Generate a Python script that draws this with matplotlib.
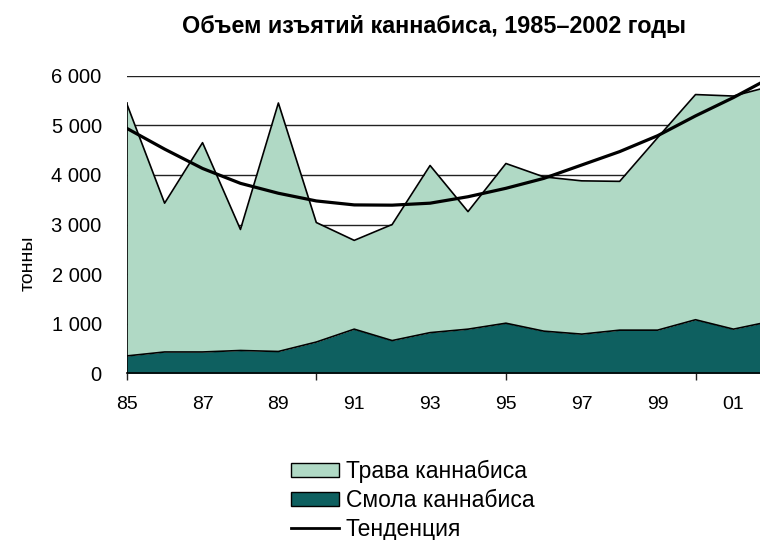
import matplotlib
matplotlib.use("Agg")
import matplotlib.pyplot as plt
from matplotlib.patches import Patch
from matplotlib.lines import Line2D

plt.rcParams['font.family'] = ['Liberation Sans', 'DejaVu Sans']

# data (tonnes)
years = list(range(1985, 2003))
herb = [5090, 3000, 4220, 2440, 5010, 2410, 1790, 2340, 3370, 2370,
        3220, 3110, 3090, 3000, 3880, 4540, 4700, 4740]
resin = [350, 430, 430, 460, 440, 630, 890, 660, 820, 890,
         1010, 850, 790, 870, 870, 1080, 890, 1050]
trend = [4940, 4520, 4130, 3830, 3630, 3475, 3395, 3390, 3430, 3560,
         3730, 3930, 4200, 4470, 4790, 5190, 5560, 5970]

label_years = [1985, 1987, 1989, 1991, 1993, 1995, 1997, 1999, 2001]
label_text = ['85', '87', '89', '91', '93', '95', '97', '99', '01']
tick_years = [1985, 1990, 1995, 2000]
y_ticks = [0, 1000, 2000, 3000, 4000, 5000, 6000]
y_text = ['0', '1 000', '2 000', '3 000', '4 000', '5 000', '6 000']

herb_color = '#b0d9c5'
resin_color = '#0e6060'


def main():
    fig = plt.figure(figsize=(7.6, 5.4), dpi=100)
    ax = fig.add_axes([0.1667, 0.3087, 0.8333, 0.5511])

    total = [h + r for h, r in zip(herb, resin)]

    ax.fill_between(years, 0, resin, color=resin_color, lw=0, zorder=2)
    ax.fill_between(years, resin, total, color=herb_color, lw=0, zorder=2)
    ax.plot(years, resin, color='black', lw=1.2, zorder=3)
    ax.plot(years, total, color='black', lw=1.2, zorder=3)
    ax.plot([years[0], years[0]], [0, total[0]], color='black', lw=1.2, zorder=3)
    ax.plot(years, trend, color='black', lw=2.3, zorder=4)

    ax.set_xlim(1985, 2001.70)
    ax.set_ylim(0, 6000)

    # gridlines behind the areas
    for y in y_ticks[1:]:
        ax.axhline(y, color='#222222', lw=1.0, zorder=1)

    ax.set_yticks(y_ticks)
    ax.set_yticklabels(y_text, fontsize=14.5)
    ax.tick_params(axis='y', length=0, pad=18)

    ax.set_xticks(tick_years)
    ax.set_xticklabels([])
    ax.tick_params(axis='x', length=5, width=1, direction='out', color='#222222')
    for yr, txt in zip(label_years, label_text):
        ax.text(yr, -0.104, txt, transform=ax.get_xaxis_transform(),
                ha='center', va='center', fontsize=14)

    for side in ['top', 'right', 'left']:
        ax.spines[side].set_visible(False)
    ax.spines['bottom'].set_linewidth(1.2)
    ax.spines['bottom'].set_zorder(5)

    fig.text(28 / 760, 1 - 263 / 540, 'тонны', rotation=90, ha='center',
             va='center', fontsize=14)
    fig.text(434 / 760, 1 - 26 / 540, 'Объем изъятий каннабиса, 1985–2002 годы',
             ha='center', va='center', fontsize=16.8, fontweight='bold')

    handles = [Patch(facecolor=herb_color, edgecolor='black', lw=1),
               Patch(facecolor=resin_color, edgecolor='black', lw=1),
               Line2D([0], [0], color='black', lw=2)]
    labels = ['Трава каннабиса', 'Смола каннабиса', 'Тенденция']
    fig.legend(handles, labels, loc='upper left',
               bbox_to_anchor=(291 / 760, 1 - 460 / 540), frameon=False,
               fontsize=16.5, handlelength=2.1, handleheight=0.6,
               handletextpad=0.28, labelspacing=0.25, borderpad=0,
               borderaxespad=0)

    fig.savefig('out.png', dpi=100)


main()
